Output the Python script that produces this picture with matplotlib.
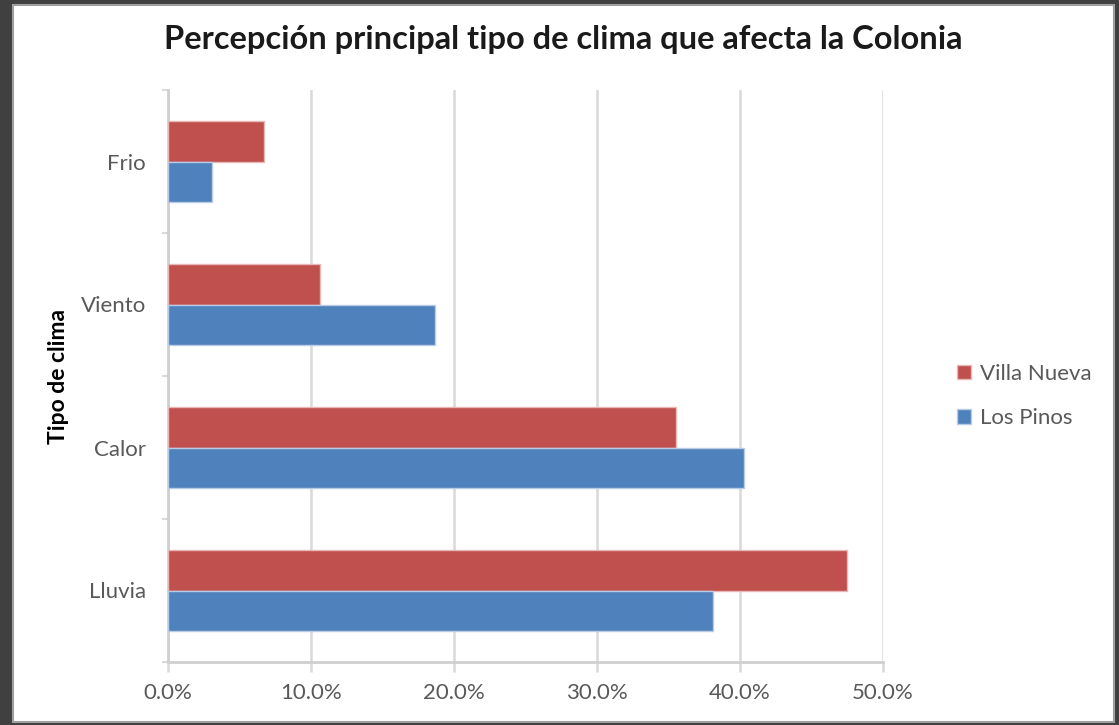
import numpy as np
import matplotlib
matplotlib.use('Agg')
import matplotlib.pyplot as plt
from matplotlib.patches import Rectangle
from matplotlib.ticker import FuncFormatter, FixedLocator

plt.rcParams['font.family'] = ['Lato', 'DejaVu Sans']

# datos (de abajo hacia arriba, como en Excel)
categorias = ['Lluvia', 'Calor', 'Viento', 'Frio']
villa_nueva = [47.5, 35.5, 10.6, 6.7]
los_pinos = [38.1, 40.3, 18.7, 3.1]
series = ['Villa Nueva', 'Los Pinos']
colores = ['#C0504D', '#4F81BD']

fig = plt.figure(figsize=(11.19, 7.25), dpi=100, facecolor='#404040')
# fondo blanco del grafico
fig.patches.append(Rectangle((13 / 1119, 3 / 725), 1101 / 1119, 717 / 725,
                             transform=fig.transFigure, facecolor='white',
                             edgecolor='#a0a0a0', linewidth=1.5, zorder=-10))

ax = fig.add_axes([168 / 1119, 63 / 725, 715 / 1119, 572 / 725])
ax.set_facecolor('none')
ax.set_zorder(2)

y = np.arange(len(categorias))
h = 0.283
ax.barh(y + h / 2, villa_nueva, h, color=colores[0], label=series[0],
        edgecolor='#e8b8b6', linewidth=1.0, zorder=3)
ax.barh(y - h / 2, los_pinos, h, color=colores[1], label=series[1],
        edgecolor='#b8cce6', linewidth=1.0, zorder=3)

ax.set_xlim(0, 50)
ax.set_ylim(-0.5, 3.5)
ax.set_xticks(np.arange(0, 51, 10))
ax.xaxis.set_major_formatter(FuncFormatter(lambda v, p: f'{v:.1f}%'))
ax.set_yticks(y)
ax.set_yticklabels(categorias)
ax.yaxis.set_minor_locator(FixedLocator([-0.5, 0.5, 1.5, 2.5, 3.5]))

ax.grid(axis='x', color='#d9d9d9', linewidth=1.8, zorder=0)
ax.set_axisbelow(True)
for s in ['top', 'right']:
    ax.spines[s].set_visible(False)
for s in ['left', 'bottom']:
    ax.spines[s].set_color('#cfcfcf')
    ax.spines[s].set_linewidth(2)

ax.tick_params(axis='x', length=7, width=1.8, color='#d9d9d9', pad=8,
               labelsize=16, labelcolor='#595959')
ax.tick_params(axis='y', which='major', length=0, pad=16,
               labelsize=16, labelcolor='#595959')
ax.tick_params(axis='y', which='minor', length=4, width=1.5, color='#d9d9d9')

ax.set_ylabel('Tipo de clima', fontsize=16.5, fontweight='bold')
ax.yaxis.set_label_coords(-(168 - 69) / 715, (662 - 377) / 572)
fig.text(563 / 1119, 1 - 40 / 725,
         'Percepción principal tipo de clima que afecta la Colonia',
         ha='center', va='center', fontsize=23.5, fontweight='bold', color='#1a1a1a')

handles, labels = ax.get_legend_handles_labels()
leg = fig.legend(handles, labels, loc='center left',
                 bbox_to_anchor=(937 / 1119, 1 - 396 / 725), frameon=False,
                 fontsize=16, handlelength=0.65, handleheight=0.65,
                 handletextpad=0.4, labelspacing=1.1)
for t in leg.get_texts():
    t.set_color('#595959')

fig.savefig('out.png', dpi=100, facecolor=fig.get_facecolor())
